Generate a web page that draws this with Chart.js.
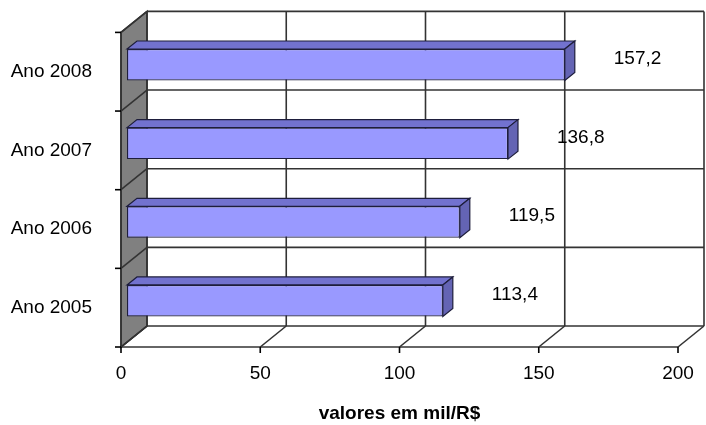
<!DOCTYPE html>
<html>
<head>
<meta charset="utf-8">
<script src="https://cdn.jsdelivr.net/npm/chart.js@4.4.1/dist/chart.umd.min.js"></script>
<style>
  html, body { margin: 0; padding: 0; background: #ffffff; }
  #wrap { width: 706px; height: 425px; }
</style>
</head>
<body>
<div id="wrap"><canvas id="c" width="706" height="425"></canvas></div>
<script>
// Receita anual (valores em mil R$)
const categories = ['Ano 2005', 'Ano 2006', 'Ano 2007', 'Ano 2008'];
const values = [113.4, 119.5, 136.8, 157.2];
const valueLabels = ['113,4', '119,5', '136,8', '157,2'];
const xTicks = [0, 50, 100, 150, 200];
const axisTitle = 'valores em mil/R$';

const FONT = "'Liberation Sans', Arial, sans-serif";

// 3D box geometry: full depth of the plot box and of each bar
const DEPTH = { dx: 26, dy: -21 };
const BAR_SHIFT = { dx: 6, dy: -7 };
const BAR_DEPTH = { dx: 10, dy: -8 };

const LINE = '#333333';

function line(ctx, x1, y1, x2, y2) {
  ctx.beginPath();
  ctx.moveTo(x1, y1);
  ctx.lineTo(x2, y2);
  ctx.stroke();
}

const box3d = {
  id: 'box3d',
  beforeDatasetsDraw(chart) {
    const { ctx, chartArea: a, scales: { x } } = chart;
    const L = a.left, R = a.right, T = a.top, B = a.bottom;
    const dx = DEPTH.dx, dy = DEPTH.dy;
    // category band boundaries on the front plane
    const bounds = [T];
    const step = (B - T) / categories.length;
    for (let i = 1; i <= categories.length; i++) bounds.push(T + step * i);

    ctx.save();
    ctx.lineWidth = 1.6;
    ctx.strokeStyle = LINE;

    // side wall
    ctx.fillStyle = '#808080';
    ctx.beginPath();
    ctx.moveTo(L, T);
    ctx.lineTo(L + dx, T + dy);
    ctx.lineTo(L + dx, B + dy);
    ctx.lineTo(L, B);
    ctx.closePath();
    ctx.fill();
    ctx.stroke();

    // back wall: horizontal lines at band boundaries
    bounds.forEach(by => line(ctx, L + dx, by + dy, R + dx, by + dy));
    // back wall: vertical lines at x ticks
    xTicks.forEach(v => {
      const px = x.getPixelForValue(v) + dx;
      line(ctx, px, T + dy, px, B + dy);
    });
    // side wall diagonals
    bounds.forEach(by => line(ctx, L, by, L + dx, by + dy));
    // floor
    line(ctx, L, B, R, B);
    xTicks.forEach(v => {
      const px = x.getPixelForValue(v);
      line(ctx, px, B, px + dx, B + dy);
    });
    // front vertical axis edge
    line(ctx, L, T, L, B);

    // tick marks
    ctx.strokeStyle = '#000';
    bounds.forEach(by => line(ctx, L - 6, by, L, by));
    xTicks.forEach(v => {
      const px = x.getPixelForValue(v);
      line(ctx, px, B, px, B + 6);
    });
    ctx.restore();
  },
  beforeDatasetDraw(chart) {
    chart.ctx.save();
    chart.ctx.translate(BAR_SHIFT.dx, BAR_SHIFT.dy);
  },
  afterDatasetDraw(chart, args) {
    const ctx = chart.ctx;
    const meta = args.meta;
    const ddx = BAR_DEPTH.dx, ddy = BAR_DEPTH.dy;
    ctx.lineWidth = 1.2;
    ctx.strokeStyle = '#1e1e3c';
    meta.data.forEach(el => {
      const p = el.getProps(['x', 'y', 'base', 'height'], true);
      const x0 = p.base, x1 = p.x;
      const top = p.y - p.height / 2, bot = p.y + p.height / 2;
      // top face
      ctx.fillStyle = '#7272cf';
      ctx.beginPath();
      ctx.moveTo(x0, top);
      ctx.lineTo(x0 + ddx, top + ddy);
      ctx.lineTo(x1 + ddx, top + ddy);
      ctx.lineTo(x1, top);
      ctx.closePath();
      ctx.fill();
      ctx.stroke();
      // end face
      ctx.fillStyle = '#6464b4';
      ctx.beginPath();
      ctx.moveTo(x1, top);
      ctx.lineTo(x1 + ddx, top + ddy);
      ctx.lineTo(x1 + ddx, bot + ddy);
      ctx.lineTo(x1, bot);
      ctx.closePath();
      ctx.fill();
      ctx.stroke();
    });
    ctx.restore();
  },
  afterDatasetsDraw(chart) {
    const ctx = chart.ctx;
    const meta = chart.getDatasetMeta(0);
    ctx.save();
    ctx.font = '19px ' + FONT;
    ctx.fillStyle = '#000';
    ctx.textAlign = 'left';
    ctx.textBaseline = 'middle';
    meta.data.forEach((el, i) => {
      const p = el.getProps(['x', 'y'], true);
      ctx.fillText(valueLabels[i], p.x + 55, p.y - 13);
    });
    ctx.restore();
  }
};

new Chart(document.getElementById('c'), {
  type: 'bar',
  data: {
    labels: categories,
    datasets: [{
      data: values,
      backgroundColor: '#9999ff',
      borderColor: '#1e1e3c',
      borderWidth: 1.2,
      borderSkipped: false,
      barPercentage: 0.4,
      categoryPercentage: 1
    }]
  },
  options: {
    indexAxis: 'y',
    responsive: false,
    animation: false,
    devicePixelRatio: 1,
    layout: { padding: { top: 32, right: 28, left: 0, bottom: 0 } },
    plugins: {
      legend: { display: false },
      tooltip: { enabled: false }
    },
    scales: {
      x: {
        min: 0,
        max: 200,
        afterBuildTicks(s) { s.ticks = xTicks.map(v => ({ value: v })); },
        afterFit(s) { s.height = 78; },
        grid: { display: false },
        border: { display: false },
        ticks: { color: '#000', padding: 7, font: { family: FONT, size: 19 } },
        title: {
          display: true,
          text: axisTitle,
          color: '#000',
          padding: { top: 0, bottom: 0 },
          font: { family: FONT, size: 19, weight: 'bold' }
        }
      },
      y: {
        reverse: true,
        afterFit(s) { s.width = 121; },
        grid: { display: false },
        border: { display: false },
        ticks: { color: '#000', padding: 21, font: { family: FONT, size: 19 } }
      }
    }
  },
  plugins: [box3d]
});
</script>
</body>
</html>
